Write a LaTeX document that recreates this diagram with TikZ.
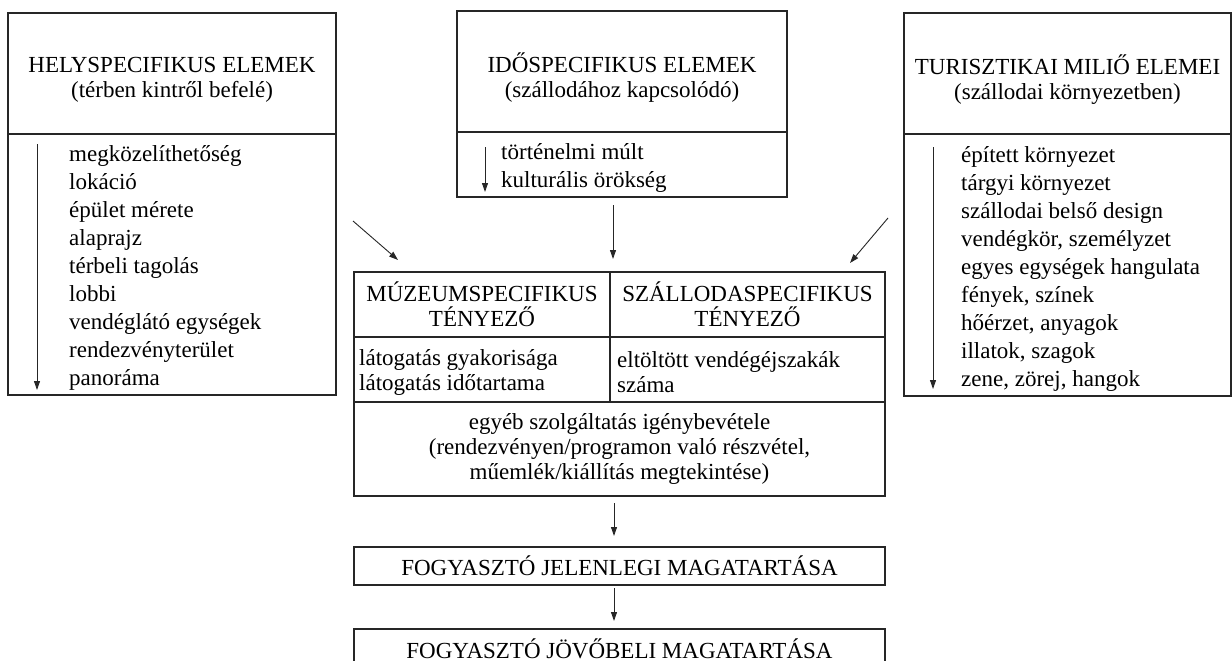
\documentclass[tikz,border=0pt]{standalone}
\usepackage{fontspec}
\setmainfont{Liberation Serif}
\usetikzlibrary{arrows.meta}
\begin{document}
\begin{tikzpicture}[x=1pt,y=-1pt,
  box/.style={draw=black!85, line width=1.1pt, inner sep=0pt, outer sep=0pt, align=center},
  txt/.style={inner sep=0pt, align=left, anchor=west},
  arr/.style={draw=black!85, line width=0.9pt, -{Triangle[length=9pt,width=6pt]}},
  bigfont/.style={font=\fontsize{23}{25}\selectfont},
  listfont/.style={font=\fontsize{23}{28}\selectfont},
  tabfont/.style={font=\fontsize{23}{25}\selectfont}
]
\useasboundingbox (0,0) rectangle (1232,661);
\fill[white] (0,0) rectangle (1232,661);

% ---- left column
\node[box,minimum width=328pt,minimum height=121pt] (lh) at (172,73.5) {};
\node[bigfont,align=center,inner sep=0pt] (lht) at (172,80)
  {HELYSPECIFIKUS ELEMEK\\(térben kintről befelé)};
\node[box,minimum width=328pt,minimum height=261pt] (ll) at (172,264.5) {};
\node[txt,listfont] (llt) at (69,268) {megközelíthetőség\\lokáció\\épület mérete\\alaprajz\\térbeli tagolás\\lobbi\\vendéglátó egységek\\rendezvényterület\\panoráma};
\coordinate (la1) at (37,144);
\coordinate (la2) at (37,390);
\draw[arr] (la1) -- (la2);

% ---- middle column
\node[box,minimum width=330pt,minimum height=121pt] (mh) at (622,71.5) {};
\node[bigfont,align=center,inner sep=0pt] (mht) at (622,78)
  {IDŐSPECIFIKUS ELEMEK\\(szállodához kapcsolódó)};
\node[box,minimum width=330pt,minimum height=65pt] (ml) at (622,164.5) {};
\node[txt,listfont] (mlt) at (501,168) {történelmi múlt\\kulturális örökség};
\coordinate (ma1) at (485,147);
\coordinate (ma2) at (485,192);
\draw[arr] (ma1) -- (ma2);

% ---- right column
\node[box,minimum width=327pt,minimum height=121pt] (rh) at (1067.5,73.5) {};
\node[bigfont,align=center,inner sep=0pt] (rht) at (1067.5,80)
  {TURISZTIKAI MILIŐ ELEMEI\\(szállodai környezetben)};
\node[box,minimum width=327pt,minimum height=262pt] (rl) at (1067.5,265) {};
\node[txt,listfont] (rlt) at (961,269) {épített környezet\\tárgyi környezet\\szállodai belső design\\vendégkör, személyzet\\egyes egységek hangulata\\fények, színek\\hőérzet, anyagok\\illatok, szagok\\zene, zörej, hangok};
\coordinate (ra1) at (933,147);
\coordinate (ra2) at (933,389);
\draw[arr] (ra1) -- (ra2);

% ---- central table
\node[box,tabfont,minimum width=256pt,minimum height=65pt] (c11) at (482,304.5)
  {MÚZEUMSPECIFIKUS\\TÉNYEZŐ};
\node[box,tabfont,minimum width=275pt,minimum height=65pt] (c12) at (747.5,304.5)
  {SZÁLLODASPECIFIKUS\\TÉNYEZŐ};
\node[box,minimum width=256pt,minimum height=65pt] (c21) at (482,369.5) {};
\node[txt,tabfont] (c21t) at (359,372) {látogatás gyakorisága\\látogatás időtartama};
\node[box,minimum width=275pt,minimum height=65pt] (c22) at (747.5,369.5) {};
\node[txt,tabfont] (c22t) at (617,372) {eltöltött vendégéjszakák\\száma};
\node[box,tabfont,minimum width=531pt,minimum height=94pt] (c3) at (619.5,449)
  {egyéb szolgáltatás igénybevétele\\(rendezvényen/programon való részvétel,\\műemlék/kiállítás megtekintése)};

% ---- bottom boxes
\node[box,tabfont,minimum width=531pt,minimum height=38pt] (b1) at (619.5,566)
  {FOGYASZTÓ JELENLEGI MAGATARTÁSA};
\node[box,tabfont,minimum width=531pt,minimum height=39pt] (b2) at (619.5,648.5)
  {FOGYASZTÓ JÖVŐBELI MAGATARTÁSA};

% ---- connectors
\coordinate (d1s) at (353,221);
\coordinate (d1e) at (398,260);
\draw[arr] (d1s) -- (d1e);
\coordinate (d2s) at (613,205);
\coordinate (d2e) at (613,259);
\draw[arr] (d2s) -- (d2e);
\coordinate (d3s) at (888,218);
\coordinate (d3e) at (850,263);
\draw[arr] (d3s) -- (d3e);
\coordinate (e1s) at (614,503);
\coordinate (e1e) at (614,536);
\draw[arr] (e1s) -- (e1e);
\coordinate (e2s) at (614,588);
\coordinate (e2e) at (614,621);
\draw[arr] (e2s) -- (e2e);
\end{tikzpicture}
\end{document}
